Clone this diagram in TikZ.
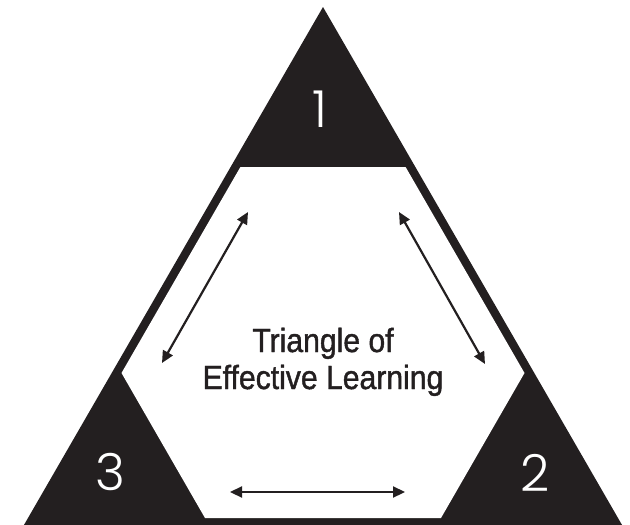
\documentclass[tikz,border=0pt]{standalone}
\usepackage{fontspec}
\usetikzlibrary{arrows.meta}
\newfontfamily\labelfont{Liberation Sans}[FakeStretch=0.9,FakeBold=1.2]
\newfontfamily\digitfont{Poppins Light}
\definecolor{ink}{HTML}{231F20}
\begin{document}
\begin{tikzpicture}[x=1pt,y=-1pt,
  conn/.style={draw=ink, line width=2.2pt,
    {Triangle[length=12pt,width=11pt]}-{Triangle[length=12pt,width=11pt]}},
  digit/.style={text=white, font=\digitfont\fontsize{51}{51}\selectfont, inner sep=0pt},
  title/.style={text=ink, font=\labelfont\fontsize{33.5}{37}\selectfont, inner sep=0pt}]
\useasboundingbox (0,0) rectangle (630,525);
% outer black triangle
\fill[ink] (323,7) -- (623.2,527) -- (22.8,527) -- cycle;
% white hexagon inside
\fill[white] (240.4,167) -- (405.6,167) -- (524.5,373) -- (441,518) -- (205,518) -- (121.5,373) -- cycle;
% corner numbers
\node[digit] (n1) at (320,109) {1};
\node[digit] (n3) at (110.5,472.5) {3};
\node[digit] (n2) at (535,472.5) {2};
% title
\node[title, anchor=base] (t1) at (323,352) {Triangle of};
\node[title, anchor=base] (t2) at (323,389) {Effective Learning};
% arrow ends
\coordinate (la) at (162,363);
\coordinate (lb) at (248,212);
\coordinate (ra) at (399,212);
\coordinate (rb) at (485,364);
\coordinate (ba) at (230,492);
\coordinate (bb) at (405,492);
\draw[conn] (la) -- (lb);
\draw[conn] (ra) -- (rb);
\draw[conn] (ba) -- (bb);
\end{tikzpicture}
\end{document}
